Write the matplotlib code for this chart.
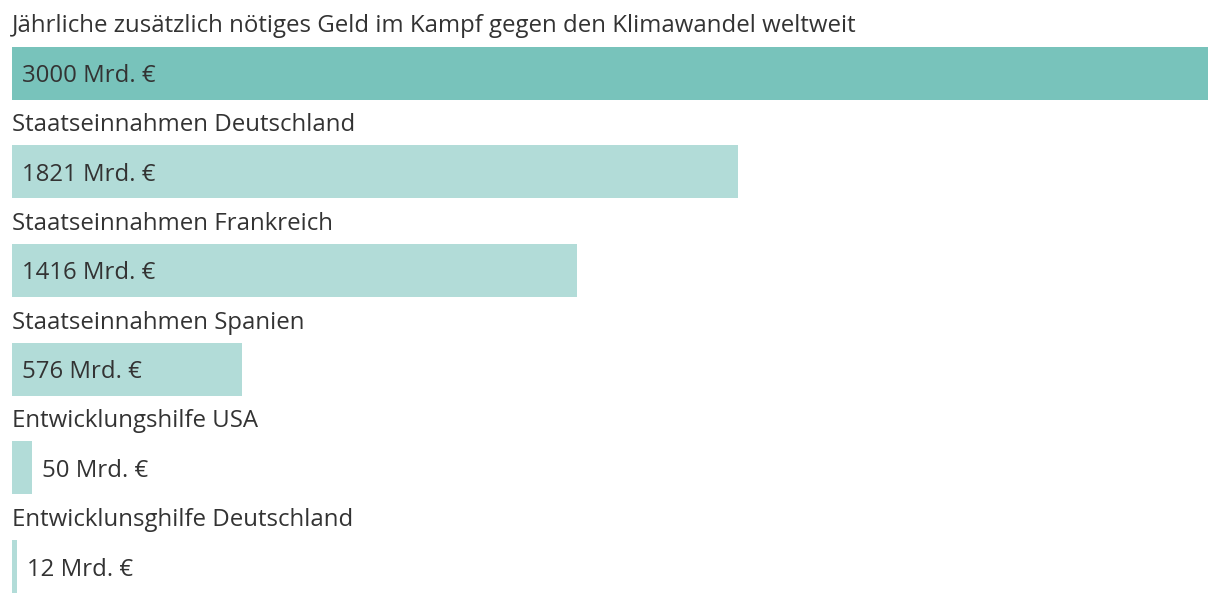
import matplotlib
matplotlib.use("Agg")
import matplotlib.pyplot as plt

categories = [
    "Jährliche zusätzlich nötiges Geld im Kampf gegen den Klimawandel weltweit",
    "Staatseinnahmen Deutschland",
    "Staatseinnahmen Frankreich",
    "Staatseinnahmen Spanien",
    "Entwicklungshilfe USA",
    "Entwicklunsghilfe Deutschland",
]
values = [3000, 1821, 1416, 576, 50, 12]
value_labels = ["3000 Mrd. €", "1821 Mrd. €", "1416 Mrd. €", "576 Mrd. €", "50 Mrd. €", "12 Mrd. €"]
highlight = [True, False, False, False, False, False]

W, H = 1220, 606
DPI = 100
plt.rcParams['font.family'] = ['Open Sans', 'DejaVu Sans']
fig = plt.figure(figsize=(W / DPI, H / DPI), dpi=DPI)
ax = fig.add_axes([0, 0, 1, 1])

left_px, right_px = 12, 1208
vmax = max(values)
px_per_unit = (right_px - left_px) / vmax
ax.set_xlim(-left_px / px_per_unit, (W - left_px) / px_per_unit)
ax.set_ylim(H, 0)
ax.axis('off')

dark = '#78c3bb'
light = '#b2dcd8'
text_color = '#333333'
fs = 17.3

first_center = 73
step = 98.7
bar_h = 53

for i, (cat, v, lab, hi) in enumerate(zip(categories, values, value_labels, highlight)):
    yc = first_center + i * step
    ax.barh(yc, v, height=bar_h, left=0, color=dark if hi else light, linewidth=0)
    # category label above bar
    ax.text(0, yc - bar_h / 2 - 14, cat, fontsize=fs, color=text_color,
            ha='left', va='baseline')
    bar_px = v * px_per_unit
    if bar_px > 150:
        x = 10 / px_per_unit
    else:
        x = v + 10 / px_per_unit
    ax.text(x, yc + 9, lab, fontsize=fs, color=text_color, ha='left', va='baseline')

fig.savefig('out.png', dpi=DPI)
